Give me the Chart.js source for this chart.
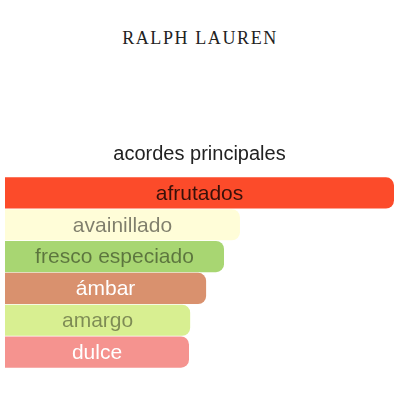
<!DOCTYPE html>
<html>
<head>
<meta charset="utf-8">
<script src="https://cdn.jsdelivr.net/npm/chart.js@4/dist/chart.umd.min.js"></script>
<style>
  html, body { margin: 0; padding: 0; background: #fff; }
  #wrap { position: relative; width: 400px; height: 400px; }
  #brand {
    position: absolute; top: 28px; left: 0; width: 400px; text-align: center;
    font-family: "Liberation Serif", "DejaVu Serif", serif; font-size: 18px;
    letter-spacing: 1.6px; color: #222;
  }
  canvas { position: absolute; top: 0; left: 0; }
</style>
</head>
<body>
<div id="wrap">
  <div id="brand">RALPH LAUREN</div>
  <canvas id="accords" width="400" height="400"></canvas>
</div>
<script>
const accordNames = ['afrutados', 'avainillado', 'fresco especiado', 'ámbar', 'amargo', 'dulce'];
const accordStrength = [100, 60.4, 56.3, 51.7, 47.6, 47.3];
const barColors = ['#fc4b2a', '#fffdd8', '#a8d672', '#d9916e', '#d8ef91', '#f5938f'];
const textColors = ['rgba(0,0,0,0.78)', 'rgba(0,0,0,0.5)', 'rgba(0,0,0,0.45)', '#fff', 'rgba(0,0,0,0.42)', '#fff'];

// writes each accord name in the middle of its bar
const barLabels = {
    id: 'barLabels',
    afterDatasetsDraw(chart) {
        const ctx = chart.ctx;
        const meta = chart.getDatasetMeta(0);
        ctx.save();
        ctx.font = '21px "Liberation Sans", Arial, sans-serif';
        ctx.textAlign = 'center';
        ctx.textBaseline = 'middle';
        meta.data.forEach(function (bar, i) {
            ctx.fillStyle = textColors[i];
            ctx.fillText(accordNames[i], (bar.base + bar.x) / 2, bar.y + 1);
        });
        ctx.restore();
    }
};

new Chart(document.getElementById('accords').getContext('2d'), {
    type: 'bar',
    data: {
        labels: accordNames,
        datasets: [{
            data: accordStrength,
            backgroundColor: barColors,
            borderRadius: 8,
            borderSkipped: 'start',
            barPercentage: 0.98,
            categoryPercentage: 1
        }]
    },
    options: {
        indexAxis: 'y',
        responsive: false,
        animation: false,
        layout: { padding: { left: 5, right: 6, top: 0, bottom: 32 } },
        scales: {
            x: { display: false, min: 0, max: 100 },
            y: { display: false }
        },
        plugins: {
            legend: { display: false },
            tooltip: { enabled: false },
            title: {
                display: true,
                text: 'acordes principales',
                color: '#222',
                font: { family: '"Liberation Sans", Arial, sans-serif', size: 20, weight: 'normal' },
                padding: { top: 142, bottom: 11 }
            }
        }
    },
    plugins: [barLabels]
});
</script>
</body>
</html>
